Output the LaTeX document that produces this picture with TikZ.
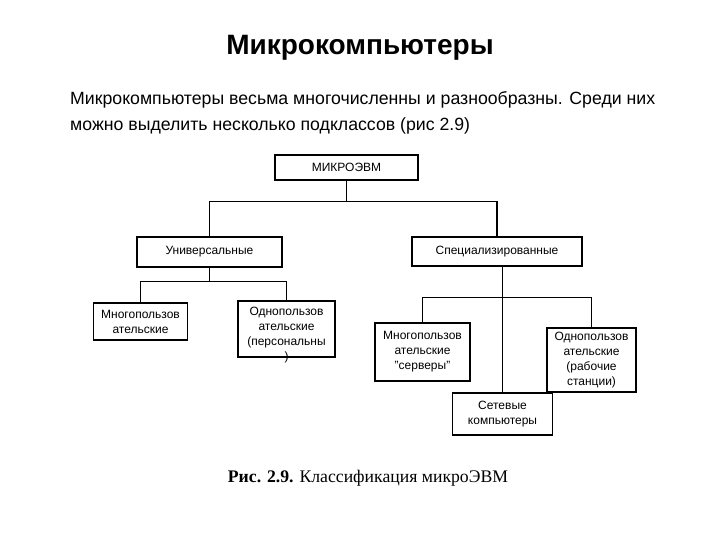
\documentclass[tikz,border=0pt]{standalone}
\usepackage{fontspec}
\setmainfont{Liberation Sans}
\newfontfamily\capfont{Liberation Serif}
\begin{document}
\begin{tikzpicture}[x=1pt,y=-1pt,
  box/.style={draw=black, line width=1.1pt, rectangle, inner sep=0pt, align=center,
    font=\fontsize{12}{15}\selectfont},
  txt/.style={inner sep=0pt, align=center, font=\fontsize{12}{15}\selectfont},
  wire/.style={draw=black, line width=1.1pt}]
\useasboundingbox (0,0) rectangle (720,540);
\fill[white] (0,0) rectangle (720,540);
% heading and paragraph
\node[anchor=base, inner sep=0pt, font=\fontsize{28}{32}\selectfont\bfseries] (title) at (360,55) {Микрокомпьютеры};
\node[anchor=base west, inner sep=0pt, font=\fontsize{17.7}{22}\selectfont] (p1) at (70,105) {Микрокомпьютеры весьма многочисленны и разнообразны. Среди них};
\node[anchor=base west, inner sep=0pt, font=\fontsize{17.7}{22}\selectfont] (p2) at (70,131) {можно выделить несколько подклассов (рис 2.9)};
% boxes
\node[box, minimum width=143pt, minimum height=25pt] (m) at (346.5,167.5) {МИКРОЭВМ};
\node[box, minimum width=145pt, minimum height=30pt] (u) at (209.5,252) {Универсальные};
\node[box, minimum width=170pt, minimum height=29pt] (s) at (497,251.5) {Специализированные};
\node[box, minimum width=94pt, minimum height=37pt] (a) at (140.5,321.5) {Многопользов\\ательские};
\node[box, minimum width=97pt, minimum height=56pt] (b) at (286.5,329) {};
\node[txt] (bt) at (286.5,335) {Однопользов\\ательские\\(персональны\\)};
\node[box, minimum width=95pt, minimum height=58pt] (c) at (422.5,352) {Многопользов\\ательские\\"серверы"};
\node[box, minimum width=89pt, minimum height=64pt] (d) at (591.5,360) {Однопользов\\ательские\\(рабочие\\станции)};
\node[box, minimum width=100pt, minimum height=42pt] (n) at (502.5,414) {Сетевые\\компьютеры};
% connectors
\coordinate (j1) at (346.5,201.5);
\coordinate (j2) at (209.5,281.5);
\coordinate (j3) at (502.5,297.5);
\draw[wire] (m.south) -- (j1);
\draw[wire] (u.north) |- (j1) -| (s.north);
\draw[wire] (u.south) -- (j2);
\draw[wire] (a.north) |- (j2) -| (b.north);
\draw[wire] (s.south -| n.north) -- (n.north);
\draw[wire] (c.north) |- (j3) -| (d.north);
% caption
\node[anchor=base, inner sep=0pt, font=\capfont\fontsize{17.7}{20}\selectfont] (cap) at (368,482) {\textbf{Рис. 2.9.} Классификация микроЭВМ};
\end{tikzpicture}
\end{document}
